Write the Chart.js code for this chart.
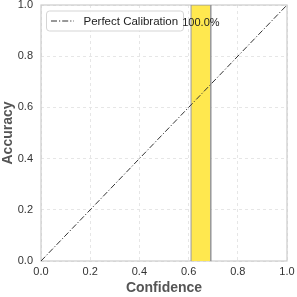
<!DOCTYPE html>
<html><head><meta charset="utf-8">
<script src="https://cdn.jsdelivr.net/npm/chart.js@4/dist/chart.umd.min.js"></script>
<style>html,body{margin:0;padding:0;background:#fff}canvas{display:block}</style>
</head><body>
<canvas id="c" width="297" height="297"></canvas>
<script>
const binLeft = [0.61];
const binRight = [0.69];
const binAccuracy = [1.0];
const binLabels = ['100.0%'];
const diagX = [0, 1];
const diagY = [0, 1];
const tickValues = [0, 0.2, 0.4, 0.6, 0.8, 1.0];
const xTitle = 'Confidence';
const yTitle = 'Accuracy';
const lineLabel = 'Perfect Calibration';

const FONT = "'Liberation Sans', Arial, sans-serif";

const barPts = [];
binLeft.forEach((l, i) => {
  barPts.push({x: l, y: 0}, {x: l, y: binAccuracy[i]}, {x: binRight[i], y: binAccuracy[i]}, {x: binRight[i], y: 0});
});

const deco = {
  id: 'deco',
  beforeDatasetsDraw(chart) {
    const {ctx, chartArea: a} = chart;
    ctx.save();
    ctx.strokeStyle = '#cccccc';
    ctx.lineWidth = 1.2;
    ctx.strokeRect(a.left, a.top, a.right - a.left, a.bottom - a.top);
    ctx.restore();
  },
  afterDatasetsDraw(chart) {
    const {ctx, chartArea: a, scales} = chart;
    ctx.save();
    // legend
    const lx = a.left + 5, ly = a.top + 5.5, lw = 137, lh = 20;
    ctx.beginPath();
    if (ctx.roundRect) ctx.roundRect(lx + 0.5, ly + 0.5, lw, lh, 3); else ctx.rect(lx + 0.5, ly + 0.5, lw, lh);
    ctx.fillStyle = 'rgba(255,255,255,0.85)';
    ctx.fill();
    ctx.strokeStyle = '#d5d5d5';
    ctx.lineWidth = 1;
    ctx.stroke();
    ctx.beginPath();
    ctx.setLineDash([6, 2, 1.2, 2]);
    ctx.strokeStyle = '#333';
    ctx.lineWidth = 1;
    ctx.moveTo(lx + 5, ly + lh / 2 + 0.5);
    ctx.lineTo(lx + 28, ly + lh / 2 + 0.5);
    ctx.stroke();
    ctx.setLineDash([]);
    ctx.fillStyle = '#222';
    ctx.font = '11.5px ' + FONT;
    ctx.textAlign = 'left';
    ctx.textBaseline = 'middle';
    ctx.fillText(lineLabel, lx + 37.5, ly + lh / 2 + 1);
    // bar labels
    ctx.font = '11px ' + FONT;
    ctx.textAlign = 'center';
    binLeft.forEach((l, i) => {
      const cx = scales.x.getPixelForValue((l + binRight[i]) / 2);
      const cy = scales.y.getPixelForValue(binAccuracy[i]) + 17.5;
      ctx.fillText(binLabels[i], cx, cy);
    });
    ctx.restore();
  }
};

function zeroPad(s) { s.paddingTop = 0; s.paddingBottom = 0; s.paddingLeft = 0; s.paddingRight = 0; }

new Chart(document.getElementById('c'), {
  type: 'scatter',
  data: {
    datasets: [
      {
        label: lineLabel,
        data: diagX.map((x, i) => ({x, y: diagY[i]})),
        showLine: true,
        borderColor: '#333',
        borderWidth: 1,
        borderDash: [6, 2, 1.2, 2],
        pointRadius: 0,
        order: 0
      },
      {
        label: 'bins',
        data: barPts,
        showLine: true,
        fill: 'origin',
        backgroundColor: '#ffe84f',
        borderColor: '#999999',
        borderWidth: 1,
        pointRadius: 0,
        tension: 0,
        order: 1
      }
    ]
  },
  options: {
    responsive: false,
    animation: false,
    layout: {padding: {top: 5, right: 10, left: 0, bottom: 0}},
    plugins: {legend: {display: false}, tooltip: {enabled: false}},
    scales: {
      x: {
        type: 'linear', min: 0, max: 1,
        afterBuildTicks: s => { s.ticks = tickValues.map(v => ({value: v})); },
        afterFit: s => { s.height = 36; zeroPad(s); },
        grid: {color: '#e6e6e6', drawTicks: false, tickLength: 0},
        border: {display: false, dash: [3, 3]},
        ticks: {color: '#333', font: {family: FONT, size: 11}, padding: 4, maxRotation: 0,
          callback: v => v.toFixed(1)},
        title: {display: true, text: xTitle, color: '#555', font: {family: FONT, size: 14, weight: 'bold'}, padding: {top: 0, bottom: 0}}
      },
      y: {
        type: 'linear', min: 0, max: 1,
        afterBuildTicks: s => { s.ticks = tickValues.map(v => ({value: v})); },
        afterFit: s => { s.width = 41; zeroPad(s); },
        grid: {color: '#e6e6e6', drawTicks: false, tickLength: 0},
        border: {display: false, dash: [3, 3]},
        ticks: {color: '#333', font: {family: FONT, size: 11}, padding: 8,
          callback: v => v.toFixed(1)},
        title: {display: true, text: yTitle, color: '#555', font: {family: FONT, size: 14, weight: 'bold'}, padding: {top: 0, bottom: 2}}
      }
    }
  },
  plugins: [deco]
});
</script>
</body></html>
